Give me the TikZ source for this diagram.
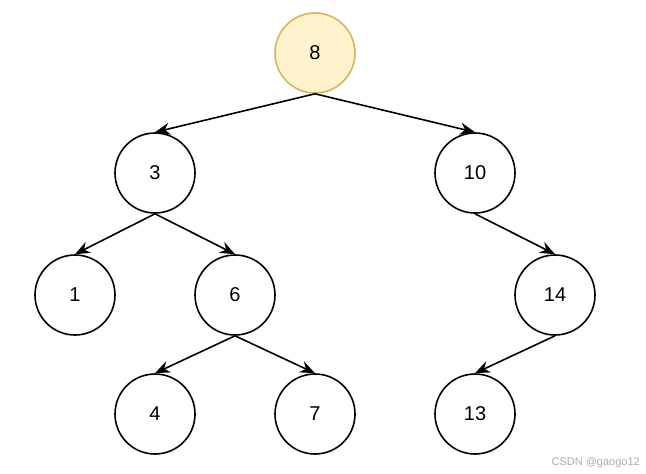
\documentclass[tikz,border=0pt]{standalone}
\usepackage{fontspec}
\setmainfont{Liberation Sans}
\usetikzlibrary{positioning, arrows.meta}
\usepackage{xcolor}
\definecolor{RootFill}{HTML}{FFF2CC}
\definecolor{RootLine}{HTML}{D6B656}
\definecolor{MarkGray}{HTML}{ABABAB}

\tikzset{
    treenode/.style={circle, draw=black, line width=1.6pt, minimum size=80pt, inner sep=0pt, font=\fontsize{20}{24}\selectfont},
    rootnode/.style={treenode, draw=RootLine, fill=RootFill},
    treeedge/.style={-{Stealth[length=15pt, width=12pt, inset=5pt]}, line width=1.6pt}
}

\begin{document}
\begin{tikzpicture}[x=1pt, y=-1pt]
                \useasboundingbox (0, 0) rectangle (646, 474);

                % Nodes
                \node[rootnode] (n8) at (315, 53) {8};
                \node[treenode] (n3) at (155, 173) {3};
                \node[treenode] (n10) at (475, 173) {10};
                \node[treenode] (n1) at (75, 295) {1};
                \node[treenode] (n6) at (235, 295) {6};
                \node[treenode] (n14) at (555, 295) {14};
                \node[treenode] (n4) at (155, 414) {4};
                \node[treenode] (n7) at (315, 414) {7};
                \node[treenode] (n13) at (475, 414) {13};

                % Edges
                \draw[treeedge] (n8.south) -- (n3.north);
                \draw[treeedge] (n8.south) -- (n10.north);
                \draw[treeedge] (n3.south) -- (n1.north);
                \draw[treeedge] (n3.south) -- (n6.north);
                \draw[treeedge] (n10.south) -- (n14.north);
                \draw[treeedge] (n6.south) -- (n4.north);
                \draw[treeedge] (n6.south) -- (n7.north);
                \draw[treeedge] (n14.south) -- (n13.north);

                % Watermark
                \node[font=\fontsize{11}{12}\selectfont, MarkGray, anchor=east, inner sep=0pt] (mark) at (640, 463) {CSDN @gaogo12};
            \end{tikzpicture}
\end{document}
